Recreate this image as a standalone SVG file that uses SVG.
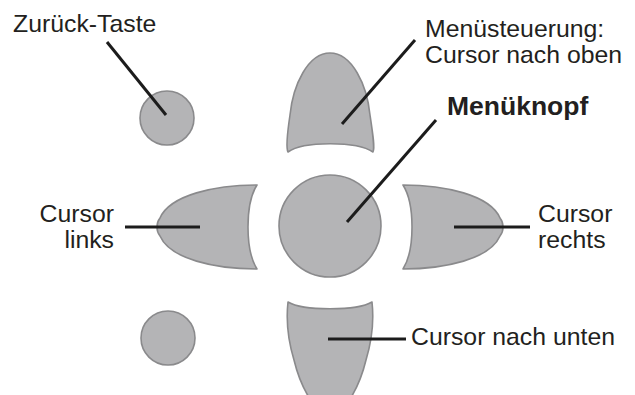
<svg xmlns="http://www.w3.org/2000/svg" width="635" height="395" viewBox="0 0 635 395">
<style>
.btn{fill:#b4b4b6;stroke:#8a8a8c;stroke-width:1.6;stroke-linejoin:round}
.lbl{font-family:"Liberation Sans",Arial,sans-serif;font-size:24.8px;fill:#231f20}
.bold{font-weight:bold;font-size:26.5px}
.ln{stroke:#1c1c1c;stroke-width:3;fill:none;stroke-linecap:butt}
</style>
<rect width="635" height="395" fill="#ffffff"/>
<g id="zurueck">
<circle class="btn" cx="167" cy="118" r="27"/>
<text class="lbl" x="13" y="32">Zurück-Taste</text>
</g>
<g id="btn-bl">
<circle class="btn" cx="168" cy="338" r="27"/>
</g>
<g id="up">
<path class="btn" d="M 330 53 C 352 53 367 85 370 115 C 373 135 375 148 373 152 C 357 141 303 141 288 152 C 286 148 287 135 290 115 C 293 85 308 53 330 53 Z"/>
<text class="lbl" x="425" y="37">Menüsteuerung:</text>
<text class="lbl" x="425" y="63">Cursor nach oben</text>
</g>
<g id="menu">
<circle class="btn" cx="330" cy="226" r="51"/>
<text class="lbl bold" x="447" y="115">Menüknopf</text>
</g>
<g id="left">
<path class="btn" d="M 257 185 C 215 185 170 195 160 218 C 156 223 156 231 160 236 C 170 259 215 269 257 269 C 245 250 245 204 257 185 Z"/>
<text class="lbl" x="114" y="222" text-anchor="end">Cursor</text>
<text class="lbl" x="114" y="248" text-anchor="end">links</text>
</g>
<g id="right">
<path class="btn" transform="translate(660,0) scale(-1,1)" d="M 257 185 C 215 185 170 195 160 218 C 156 223 156 231 160 236 C 170 259 215 269 257 269 C 245 250 245 204 257 185 Z"/>
<text class="lbl" x="538" y="222">Cursor</text>
<text class="lbl" x="538" y="248">rechts</text>
</g>
<g id="down">
<path class="btn" d="M 288 302 C 303 311 357 311 372 302 C 374 320 372 340 366 360 C 360 385 345 415 330 415 C 315 415 300 385 294 360 C 288 340 286 320 288 302 Z"/>
<text class="lbl" x="411" y="345">Cursor nach unten</text>
</g>
<g id="connectors">
<line class="ln" x1="107" y1="42" x2="166" y2="115"/>
<line class="ln" x1="415" y1="40" x2="342" y2="124"/>
<line class="ln" x1="436" y1="120" x2="347" y2="222"/>
<line class="ln" x1="125" y1="227" x2="200" y2="227"/>
<line class="ln" x1="454" y1="227" x2="530" y2="227"/>
<line class="ln" x1="328" y1="339" x2="406" y2="339"/>
</g>
</svg>
